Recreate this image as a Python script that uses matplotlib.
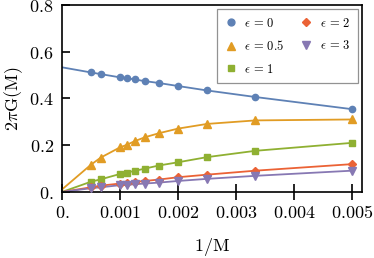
import numpy as np
import matplotlib
matplotlib.use('Agg')
import matplotlib.pyplot as plt

plt.rcParams['mathtext.fontset'] = 'cm'
plt.rcParams['font.family'] = 'serif'
plt.rcParams['font.serif'] = ['DejaVu Serif']

# 1/M sample points
inv_m = np.array([1/2000, 1/1500, 1/1000, 1/900, 1/800, 1/700, 1/600, 1/500, 1/400, 1/300, 1/200])

# measured 2 pi G(M)
g_eps0 = [0.511, 0.504, 0.490, 0.487, 0.481, 0.474, 0.466, 0.453, 0.434, 0.406, 0.354]
g_eps05 = [0.117, 0.147, 0.191, 0.201, 0.217, 0.234, 0.251, 0.271, 0.291, 0.306, 0.310]
g_eps1 = [0.044, 0.054, 0.077, 0.083, 0.090, 0.100, 0.113, 0.127, 0.149, 0.176, 0.210]
g_eps2 = [0.020, 0.027, 0.036, 0.039, 0.043, 0.047, 0.053, 0.063, 0.074, 0.091, 0.119]
g_eps3 = [0.016, 0.020, 0.029, 0.030, 0.033, 0.036, 0.040, 0.047, 0.056, 0.069, 0.091]

# fitted value at 1/M = 0
g_limit = [0.533, 0.011, 0.0, 0.0, 0.0]

labels = ['0', '0.5', '1', '2', '3']
colors = ['#5E81B5', '#E19C24', '#8FB032', '#EB6235', '#8778B3']
markers = ['o', '^', 's', 'D', 'v']
msizes = [4.5, 5.5, 4.2, 3.8, 5.5]

xticks = [0, 0.001, 0.002, 0.003, 0.004, 0.005]
xticklabels = ['0.', '0.001', '0.002', '0.003', '0.004', '0.005']
yticks = [0, 0.2, 0.4, 0.6, 0.8]
yticklabels = ['0.', '0.2', '0.4', '0.6', '0.8']

fig = plt.figure(figsize=(3.74, 2.58), dpi=100)
ax = fig.add_axes([0.166, 0.256, 0.802, 0.725])

series = [g_eps0, g_eps05, g_eps1, g_eps2, g_eps3]
for k in range(len(series)):
	xs = np.r_[0, inv_m]
	ys = np.r_[g_limit[k], series[k]]
	ax.plot(xs, ys, color=colors[k], lw=1.3, zorder=2)
	ax.plot(inv_m, series[k], ls='none', marker=markers[k], ms=msizes[k],
			color=colors[k], mec=colors[k], zorder=3, label=r'$\epsilon\,=\,%s$' % labels[k])

ax.set_xlim(0, 0.00517)
ax.set_ylim(0, 0.8)
ax.set_xticks(xticks)
ax.set_xticklabels(['$\\mathrm{%s}$' % t for t in xticklabels], fontsize=13)
ax.set_yticks(yticks)
ax.set_yticklabels(['$\\mathrm{%s}$' % t for t in yticklabels], fontsize=13)
ax.tick_params(axis='x', direction='inout', length=11, width=1.2, pad=3)
ax.tick_params(axis='y', direction='in', length=6, width=1.2, pad=6)
for s in ax.spines.values():
	s.set_linewidth(1.2)

ax.set_xlabel(r'$1/\mathrm{M}$', fontsize=13, labelpad=10)
ax.set_ylabel(r'$2\pi\mathrm{G(M)}$', fontsize=13, labelpad=3)

leg = ax.legend(loc='upper right', ncol=2, fontsize=9, frameon=True, fancybox=False,
				edgecolor='#777777', handlelength=1.0, handletextpad=0.6, columnspacing=1.2,
				labelspacing=0.75, borderaxespad=0.35, borderpad=0.6, markerscale=1.1)
leg.get_frame().set_linewidth(0.9)

fig.savefig('out.png', dpi=100)
